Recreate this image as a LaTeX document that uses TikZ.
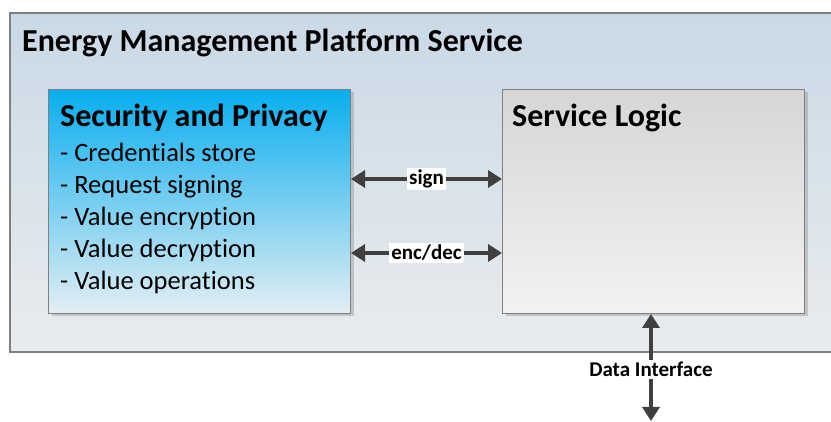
\documentclass[tikz,border=0pt]{standalone}
\usepackage{fontspec}
\setmainfont{Carlito}[Ligatures=CommonOff]
\usetikzlibrary{positioning,arrows.meta,shadows}
\definecolor{emsFrame}{HTML}{7F7F7F}
\definecolor{emsSkyTop}{HTML}{C9D9E6}
\definecolor{emsSkyBot}{HTML}{E9ECEE}
\definecolor{emsBlueTop}{HTML}{08AEEF}
\definecolor{emsBlueBot}{HTML}{E4EEF3}
\definecolor{emsGrayTop}{HTML}{D6D6D6}
\definecolor{emsGrayBot}{HTML}{F2F2F2}
\definecolor{emsArrow}{HTML}{404040}
\tikzset{
  compbox/.style={draw=emsFrame, line width=1pt, anchor=north west, inner sep=0pt,
    minimum width=302pt, minimum height=224pt,
    drop shadow={shadow xshift=3pt, shadow yshift=-3pt, opacity=0.35}},
  biarrow/.style={draw=emsArrow, line width=4.5pt, {Triangle[length=14pt,width=17pt]}-{Triangle[length=14pt,width=17pt]}},
  lbl/.style={fill=white, inner sep=2pt, font=\fontsize{21}{24}\selectfont\bfseries},
  boxtitle/.style={anchor=base west, inner sep=0pt, font=\fontsize{32}{38}\selectfont\bfseries}
}
\begin{document}
\begin{tikzpicture}[x=1pt, y=-1pt]
  \useasboundingbox (0,0) rectangle (831,422);
  \begin{scope}
    \clip (0,0) rectangle (831,422);
    \shade[top color=emsSkyTop, bottom color=emsSkyBot, draw=emsFrame, line width=1.5pt]
      (10,13) rectangle (845,352);
  \end{scope}
  \node[boxtitle] (platTitle) at (22,52) {Energy Management Platform Service};

  % components
  \node[compbox, top color=emsBlueTop, bottom color=emsBlueBot] (sec) at (48,89) {};
  \node[compbox, top color=emsGrayTop, bottom color=emsGrayBot] (logic) at (502,89) {};
  \node[boxtitle] (secTitle) at (60,127) {Security and Privacy};
  \node[boxtitle] (logicTitle) at (512,127) {Service Logic};
  \foreach \item [count=\i] in {Credentials store, Request signing, Value encryption,
      Value decryption, Value operations}
    \node[anchor=base west, inner sep=0pt, font=\fontsize{26.5}{32}\selectfont]
      (secItem\i) at (60,130+32*\i) {- \item};

  % connectors
  \coordinate (signY) at (0,179);
  \coordinate (encY) at (0,253);
  \coordinate (dataEnd) at (651,421);
  \draw[biarrow] (sec.east |- signY) -- node[lbl] {sign} (logic.west |- signY);
  \draw[biarrow] (sec.east |- encY) -- node[lbl] {enc/dec} (logic.west |- encY);
  \draw[biarrow] (logic.south -| dataEnd) -- node[lbl, pos=0.52] {Data Interface} (dataEnd);
\end{tikzpicture}
\end{document}
